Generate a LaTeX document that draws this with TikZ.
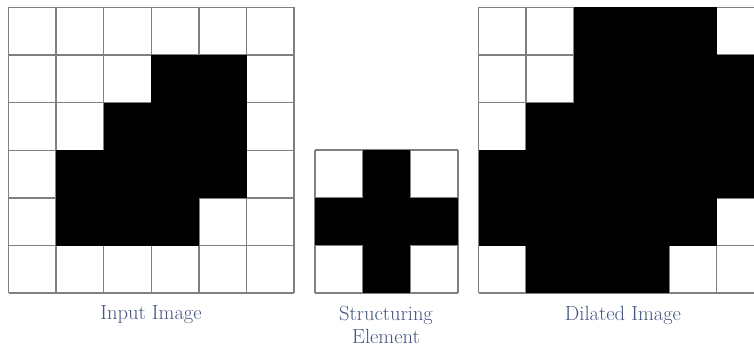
\documentclass[tikz,border=0pt]{standalone}
\definecolor{lbl}{RGB}{68,84,128}
\definecolor{gridc}{RGB}{128,128,128}
\begin{document}
\begin{tikzpicture}[x=1pt,y=-1pt,
  gline/.style={draw=gridc,line width=1.5pt},
  blk/.style={fill=black},
  lab/.style={text=lbl,font=\fontsize{20.5}{23}\selectfont,align=center,inner sep=0pt}]
\useasboundingbox (0,0) rectangle (754,347);
\clip (0,0) rectangle (754,347);
\def\s{47.6}
% ---------- Input image ----------
\def\xo{8.5}\def\yo{7.5}
\foreach \i in {0,...,6}{
  \draw[gline] (\xo+\i*\s,\yo) -- (\xo+\i*\s,\yo+6*\s);
  \draw[gline] (\xo,\yo+\i*\s) -- (\xo+6*\s,\yo+\i*\s);
}
\foreach \r/\c in {1/3,1/4,2/2,2/3,2/4,3/1,3/2,3/3,3/4,4/1,4/2,4/3}
  \fill[blk] (\xo+\c*\s,\yo+\r*\s) rectangle ++(\s,\s);
% ---------- Structuring element ----------
\def\xs{315}\def\ys{150}
\foreach \i in {0,...,3}{
  \draw[gline] (\xs+\i*\s,\ys) -- (\xs+\i*\s,\ys+3*\s);
  \draw[gline] (\xs,\ys+\i*\s) -- (\xs+3*\s,\ys+\i*\s);
}
\foreach \r/\c in {0/1,1/0,1/1,1/2,2/1}
  \fill[blk] (\xs+\c*\s,\ys+\r*\s) rectangle ++(\s,\s);
% ---------- Dilated image ----------
\def\xd{478.5}\def\yd{7.5}
\foreach \i in {0,...,6}{
  \draw[gline] (\xd+\i*\s,\yd) -- (\xd+\i*\s,\yd+6*\s);
  \draw[gline] (\xd,\yd+\i*\s) -- (\xd+6*\s,\yd+\i*\s);
}
\foreach \r/\c in {0/2,0/3,0/4,1/2,1/3,1/4,1/5,2/1,2/2,2/3,2/4,2/5,3/0,3/1,3/2,3/3,3/4,3/5,4/0,4/1,4/2,4/3,4/4,5/1,5/2,5/3}
  \fill[blk] (\xd+\c*\s,\yd+\r*\s) rectangle ++(\s,\s);
% ---------- Labels ----------
\node[lab] (inlab) at (151,315) {Input Image};
\node[lab] (selab) at (386,325) {Structuring\\Element};
\node[lab] (dilab) at (623,315) {Dilated Image};
\end{tikzpicture}
\end{document}
